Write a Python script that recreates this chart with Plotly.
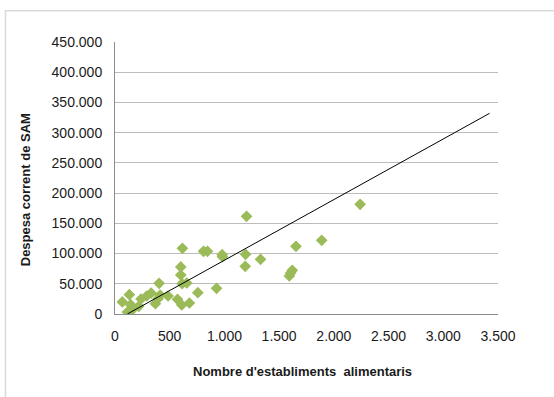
import plotly.graph_objects as go

# Data
establiments = [67, 131, 113, 143, 159, 217, 238, 290, 330, 369, 394, 412, 403, 485,
                571, 601, 601, 616, 610, 613, 656, 680, 757, 809, 845, 928, 979, 982,
                1202, 1193, 1190, 1330, 1593, 1605, 1620, 1654, 1889, 2240]
despesa = [20000, 32000, 3300, 15400, 7200, 12700, 24800, 29800, 34700, 17100, 25400,
           31400, 50700, 29800, 24300, 77800, 64500, 108600, 14900, 50200, 51300, 18200,
           35300, 103700, 103700, 42500, 98200, 94800, 161600, 98700, 78900, 90400,
           62900, 67800, 72200, 111900, 121900, 181400]

# Linear trend line endpoints as seen in the picture
trend_x = [113, 3423]
trend_y = [0, 332000]

x_ticks = [0, 500, 1000, 1500, 2000, 2500, 3000, 3500]
y_ticks = [0, 50000, 100000, 150000, 200000, 250000, 300000, 350000, 400000, 450000]

FONT = "Liberation Sans"

fig = go.Figure()
fig.add_trace(go.Scatter(
    x=establiments, y=despesa, mode="markers",
    marker=dict(symbol="diamond", size=9, color="#9bbb59"),
    showlegend=False, hoverinfo="x+y"))
fig.add_trace(go.Scatter(
    x=trend_x, y=trend_y, mode="lines",
    line=dict(color="#000000", width=1),
    showlegend=False, hoverinfo="skip"))

fig.update_layout(
    width=554, height=397,
    margin=dict(l=115, r=56, t=42, b=83),
    paper_bgcolor="white", plot_bgcolor="white",
    separators=",.",
    font=dict(family=FONT, size=13, color="#1a1a1a"),
    xaxis=dict(range=[0, 3500], tickvals=x_ticks, tickformat=",d",
               showgrid=False, zeroline=False, showline=True,
               linecolor="#8c8c8c", linewidth=1, ticks="outside", ticklen=9,
               tickcolor="rgba(0,0,0,0)", tickfont=dict(size=14)),
    yaxis=dict(range=[0, 450000], tickvals=y_ticks, tickformat=",d",
               showgrid=True, gridcolor="#bcbcbc", gridwidth=1,
               zeroline=False, showline=True, linecolor="#8c8c8c", linewidth=1,
               ticks="outside", ticklen=9, tickcolor="rgba(0,0,0,0)",
               tickfont=dict(size=14)),
    shapes=[dict(type="rect", xref="paper", yref="paper",
                 x0=-0.286, x1=1.3, y0=-0.5, y1=1.115,
                 line=dict(color="#d9d9d9", width=1.5), layer="below")],
    annotations=[
        dict(text="<b>Nombre d'establiments  alimentaris</b>", xref="paper", yref="paper",
             x=(303 - 115.3) / 382.4, y=(314.3 - 372) / 272, showarrow=False,
             xanchor="center", yanchor="middle", font=dict(size=13)),
        dict(text="<b>Despesa corrent de SAM</b>", xref="paper", yref="paper",
             x=(26 - 115.3) / 382.4, y=(314.3 - 190) / 272, showarrow=False,
             textangle=-90, xanchor="center", yanchor="middle", font=dict(size=13)),
    ],
)

fig.write_html("out.html", config={"displayModeBar": False},
               post_script="document.body.style.margin='0';document.body.style.overflow='hidden';")
